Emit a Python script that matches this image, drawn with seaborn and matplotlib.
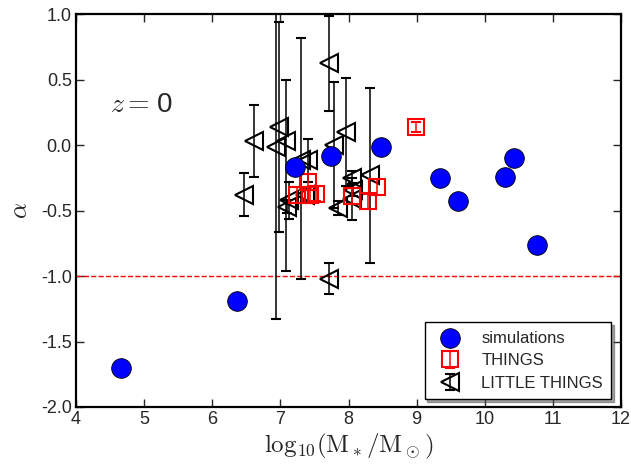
import numpy as np
import pandas as pd
import matplotlib
matplotlib.use("Agg")
import matplotlib.pyplot as plt
import seaborn as sns

# simulations
sim_x = [4.66, 6.36, 7.22, 7.75, 8.48, 9.35, 9.61, 10.30, 10.43, 10.77]
sim_y = [-1.70, -1.19, -0.17, -0.08, -0.01, -0.25, -0.43, -0.24, -0.10, -0.76]

# THINGS
things_x = [7.24, 7.40, 7.44, 7.52, 8.05, 8.28, 8.42, 8.99]
things_y = [-0.38, -0.28, -0.38, -0.37, -0.39, -0.43, -0.32, 0.14]
things_err = [0.06, 0.06, 0.06, 0.06, 0.06, 0.06, 0.06, 0.04]

# LITTLE THINGS (value, lower and upper end of the error bar)
lt_x = [6.47, 6.61, 6.93, 6.98, 7.08, 7.09, 7.12, 7.31, 7.36, 7.41,
        7.71, 7.72, 7.78, 7.85, 7.97, 8.05, 8.07, 8.05, 8.31]
lt_y = [-0.38, 0.03, -0.01, 0.14, 0.03, -0.47, -0.42, -0.11, -0.38, -0.11,
        0.63, -1.02, 0.00, -0.48, 0.10, -0.25, -0.34, -0.41, -0.23]
lt_lo = [-0.54, -0.24, -1.33, -0.66, -0.96, -0.52, -0.56, -1.02, -0.43, -0.28,
         0.26, -1.14, -0.48, -0.53, -0.31, -0.30, -0.39, -0.57, -0.90]
lt_hi = [-0.21, 0.31, 1.31, 0.94, 0.50, -0.42, -0.28, 0.82, -0.33, 0.05,
         0.99, -0.90, 0.48, -0.43, 0.51, -0.20, -0.29, -0.25, 0.44]

sns.set_style("ticks")
plt.rcParams['font.family'] = ['Liberation Sans', 'DejaVu Sans']
plt.rcParams['mathtext.fontset'] = 'cm'
plt.rcParams['axes.unicode_minus'] = False

fig = plt.figure(figsize=(6.31, 4.71), dpi=100)
ax = fig.add_axes([0.1204, 0.1359, 0.8638, 0.8337])

ax.axhline(-1.0, color='red', ls='--', lw=1.0, zorder=1)

lt_y_arr = np.array(lt_y)
lt_yerr = [lt_y_arr - np.array(lt_lo), np.array(lt_hi) - lt_y_arr]
ax.errorbar(lt_x, lt_y, yerr=lt_yerr, fmt='<', color='black', mfc='none',
            mec='black', ms=13, mew=1.5, ecolor='black', elinewidth=1.1,
            capsize=3.5, capthick=1.5, label='LITTLE THINGS', zorder=2)

ax.errorbar(things_x, things_y, yerr=things_err, fmt='s', color='red', mfc='none',
            mec='red', ms=12, mew=1.5, ecolor='red', elinewidth=1.1,
            capsize=3.5, capthick=1.5, label='THINGS', zorder=3)

sim_df = pd.DataFrame({'x': sim_x, 'y': sim_y})
sns.scatterplot(data=sim_df, x='x', y='y', ax=ax, color='blue', edgecolor='black',
                linewidth=0.6, s=200, label='simulations', zorder=4)

ax.set_xlim(4, 12)
ax.set_ylim(-2.0, 1.0)
ax.set_xticks(range(4, 13))
ax.set_yticks(np.arange(-2.0, 1.01, 0.5))
ax.set_yticklabels([f"{v:.1f}" for v in np.arange(-2.0, 1.01, 0.5)])
ax.tick_params(direction='in', top=True, right=True, length=6, width=1,
               labelsize=13, pad=3)
for sp in ax.spines.values():
    sp.set_linewidth(1.6)
    sp.set_color('black')

ax.set_xlabel(r'$\mathrm{log}_{10}(\mathrm{M}_*/\mathrm{M}_\odot)$', fontsize=18, labelpad=3)
ax.set_ylabel(r'$\alpha$', fontsize=18, labelpad=6)
ax.text(4.5, 0.31, r'$z=$', fontsize=20, va='center', ha='left')
ax.text(5.19, 0.31, '0', fontsize=20, va='center', ha='left')

handles, labels = ax.get_legend_handles_labels()
order = [labels.index(n) for n in ['simulations', 'THINGS', 'LITTLE THINGS']]
leg = ax.legend([handles[i] for i in order], [labels[i] for i in order],
                loc='lower right', fontsize=12, numpoints=1, shadow=True,
                fancybox=False, frameon=True, borderpad=0.5, labelspacing=0.45,
                handletextpad=0.9, borderaxespad=0, bbox_to_anchor=(0.982, 0.02))
leg.get_frame().set_edgecolor('black')
leg.get_frame().set_linewidth(1.0)

fig.savefig('out.png', dpi=100)
